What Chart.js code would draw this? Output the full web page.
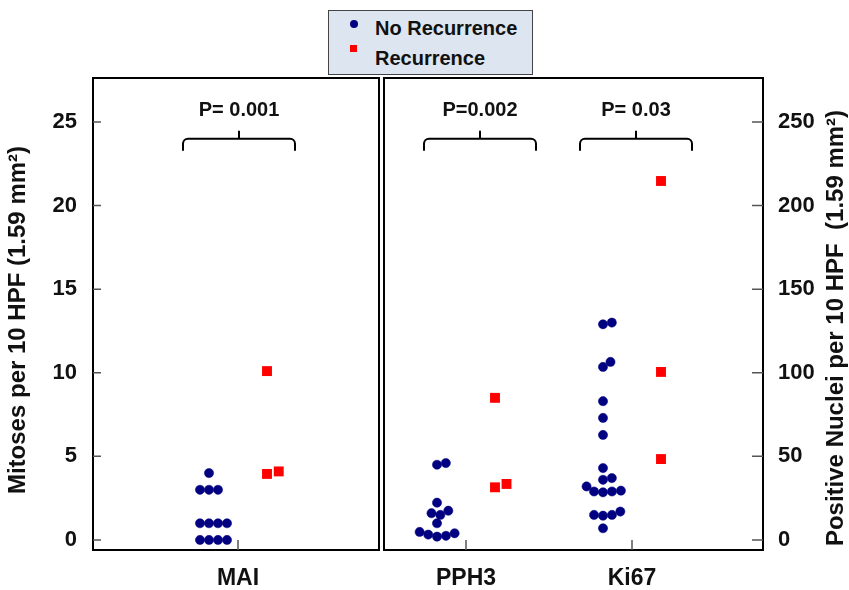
<!DOCTYPE html>
<html>
<head>
<meta charset="utf-8">
<script src="https://cdn.jsdelivr.net/npm/chart.js@4.4.1/dist/chart.umd.min.js"></script>
<style>
  html, body { margin: 0; padding: 0; background: #fff; }
  #wrap { position: relative; width: 849px; height: 590px; }
  #legend {
    position: absolute; left: 328px; top: 10px; width: 205px; height: 65px;
    background: #dde5f0; border: 1.5px solid #444; box-sizing: border-box;
    font: bold 20px "Liberation Sans", Arial, sans-serif; color: #111;
  }
  #legend .txt { position: absolute; left: 46px; line-height: 22px; white-space: nowrap; }
  #legend .dot { position: absolute; left: 21px; top: 9px; width: 8px; height: 8px; border-radius: 50%; background: #000080; }
  #legend .sq { position: absolute; left: 21px; top: 34px; width: 7px; height: 7px; background: #ff0000; }
</style>
</head>
<body>
<div id="wrap">
  <canvas id="myChart" width="849" height="590"></canvas>
  <div id="legend">
    <span class="dot"></span><div class="txt" style="top:6px">No Recurrence</div>
    <span class="sq"></span><div class="txt" style="top:36px">Recurrence</div>
  </div>
</div>
<script>
// values
const categories = ['MAI', 'PPH3', 'Ki67'];
const pLabels = ['P= 0.001', 'P=0.002', 'P= 0.03'];
const yTicks = [0, 5, 10, 15, 20, 25];
const y2Ticks = [0, 50, 100, 150, 200, 250];

const maiNoRec = [0, 0, 0, 0, 1, 1, 1, 1, 3, 3, 3, 4];
const maiRec = [10.1, 4.1, 3.95];
const pph3NoRec = [46, 45, 22.3, 17.5, 16, 15, 10, 4.8, 4, 3.2, 2.5, 2];
const pph3Rec = [85, 33.5, 31.5];
const ki67NoRec = [130, 129, 106.5, 103.5, 83, 73, 62.8, 43, 37, 36, 32, 29.5, 29, 29, 28.5, 17, 15, 15, 14.5, 7];
const ki67Rec = [214.7, 100.5, 48.4];

// layout
const catPos = [1.45, 3.73, 5.39];
const bracketX = [1.46, 3.87, 5.43];
const X_MAX = 6.7, Y_MIN = -0.6, Y_MAX = 27.63;
const PX_PER_X = 670 / X_MAX;
const PX_PER_Y = 472 / (Y_MAX - Y_MIN);
const FONT = '"Liberation Sans", Arial, sans-serif';
const navy = '#000080';

// simple beeswarm so that dots with close values sit side by side
function swarm(values, center, pxY, diam) {
  const order = values.map((v, i) => i).sort((a, b) => values[a] - values[b]);
  const placed = [];
  const out = new Array(values.length);
  order.forEach(i => {
    const y = values[i] * pxY;
    const near = placed.filter(p => Math.abs(p.y - y) < diam);
    let cands = [0];
    near.forEach(p => {
      const dx = Math.sqrt(diam * diam - (p.y - y) ** 2);
      cands.push(p.x - dx, p.x + dx);
    });
    cands = cands.filter(c => near.every(p => (c - p.x) ** 2 + (p.y - y) ** 2 >= diam * diam - 0.01));
    cands.sort((a, b) => Math.abs(a) - Math.abs(b) || b - a);
    placed.push({x: cands[0], y: y});
    out[i] = {x: center + cands[0] / PX_PER_X, y: values[i]};
  });
  return out;
}

function dots(vals, c, axis) {
  return {
    label: 'No Recurrence', yAxisID: axis,
    data: swarm(vals, catPos[c] - 0.29, axis === 'y' ? PX_PER_Y : PX_PER_Y / 10, 9),
    pointStyle: 'circle', pointRadius: 4.6, borderWidth: 0.5,
    backgroundColor: navy, borderColor: navy
  };
}
function squares(vals, c, axis) {
  return {
    label: 'Recurrence', yAxisID: axis,
    data: swarm(vals, catPos[c] + 0.29, axis === 'y' ? PX_PER_Y : PX_PER_Y / 10, 12),
    pointStyle: 'rect', pointRadius: 7, borderWidth: 0,
    backgroundColor: '#ff0000', borderColor: '#ff0000'
  };
}

function vText(ctx, txt, x, y) {
  ctx.save();
  ctx.translate(x, y);
  ctx.rotate(-Math.PI / 2);
  ctx.font = 'bold 24px ' + FONT;
  ctx.fillStyle = '#111';
  ctx.textAlign = 'center';
  ctx.textBaseline = 'middle';
  ctx.fillText(txt, 0, 0);
  ctx.restore();
}

const framePlugin = {
  id: 'frame',
  afterDraw(chart) {
    const ctx = chart.ctx;
    const x = chart.scales.x, y = chart.scales.y;
    const top = chart.chartArea.top, bottom = chart.chartArea.bottom;
    ctx.save();
    ctx.strokeStyle = '#000';
    ctx.lineWidth = 2;
    // two panels
    ctx.strokeRect(x.getPixelForValue(0), top, x.getPixelForValue(2.86) - x.getPixelForValue(0), bottom - top);
    ctx.strokeRect(x.getPixelForValue(2.91), top, x.getPixelForValue(X_MAX) - x.getPixelForValue(2.91), bottom - top);
    // inside ticks
    ctx.lineWidth = 1.5;
    ctx.strokeStyle = '#555';
    ctx.beginPath();
    catPos.forEach(v => {
      const px = x.getPixelForValue(v);
      ctx.moveTo(px, bottom); ctx.lineTo(px, bottom - 10);
    });
    yTicks.forEach(v => {
      const py = y.getPixelForValue(v);
      ctx.moveTo(chart.chartArea.left, py); ctx.lineTo(chart.chartArea.left + 8, py);
    });
    y2Ticks.forEach(v => {
      const py = chart.scales.y2.getPixelForValue(v);
      ctx.moveTo(chart.chartArea.right, py); ctx.lineTo(chart.chartArea.right - 11, py);
    });
    ctx.stroke();

    // brackets with p values
    ctx.strokeStyle = '#000';
    ctx.lineWidth = 2;
    const yb = y.getPixelForValue(24);
    bracketX.forEach((c, i) => {
      const x1 = x.getPixelForValue(c - 0.56), x2 = x.getPixelForValue(c + 0.56), xm = x.getPixelForValue(c);
      ctx.beginPath();
      ctx.moveTo(x1, yb + 12);
      ctx.arcTo(x1, yb, x1 + 5, yb, 5);
      ctx.arcTo(x2, yb, x2, yb + 12, 5);
      ctx.lineTo(x2, yb + 12);
      ctx.moveTo(xm, yb);
      ctx.lineTo(xm, yb - 8);
      ctx.stroke();
      ctx.fillStyle = '#111';
      ctx.font = 'bold 20px ' + FONT;
      ctx.textAlign = 'center';
      ctx.textBaseline = 'middle';
      ctx.fillText(pLabels[i], xm, yb - 28);
    });
    ctx.restore();

    // axis titles, both reading bottom to top
    vText(ctx, 'Mitoses per 10 HPF (1.59 mm\u00B2)', 18, 320);
    vText(ctx, 'Positive Nuclei per 10 HPF  (1.59 mm\u00B2)', 836, 328);
  }
};

const tickFont = {family: FONT, size: 22, weight: 'bold'};

new Chart(document.getElementById('myChart'), {
  type: 'scatter',
  data: {
    datasets: [
      dots(maiNoRec, 0, 'y'), squares(maiRec, 0, 'y'),
      dots(pph3NoRec, 1, 'y2'), squares(pph3Rec, 1, 'y2'),
      dots(ki67NoRec, 2, 'y2'), squares(ki67Rec, 2, 'y2')
    ]
  },
  options: {
    responsive: false,
    animation: false,
    layout: {padding: {top: 78, left: 0, right: 0, bottom: 0}},
    plugins: {legend: {display: false}, tooltip: {enabled: false}},
    scales: {
      x: {
        type: 'linear', min: 0, max: X_MAX,
        grid: {display: false, drawTicks: false}, border: {display: false},
        afterBuildTicks: s => { s.ticks = catPos.map(v => ({value: v})); },
        afterFit: s => { s.height = 40; },
        ticks: {
          callback: (v, i) => categories[i],
          font: {family: FONT, size: 23, weight: 'bold'}, color: '#111',
          padding: 15, autoSkip: false, maxRotation: 0
        }
      },
      y: {
        position: 'left', min: Y_MIN, max: Y_MAX,
        grid: {display: false, drawTicks: false}, border: {display: false},
        afterBuildTicks: s => { s.ticks = yTicks.map(v => ({value: v})); },
        afterFit: s => { s.width = 93; },
        ticks: {font: tickFont, color: '#111', padding: 16}
      },
      y2: {
        position: 'right', min: Y_MIN * 10, max: Y_MAX * 10,
        grid: {display: false, drawTicks: false}, border: {display: false},
        afterBuildTicks: s => { s.ticks = y2Ticks.map(v => ({value: v})); },
        afterFit: s => { s.width = 86; },
        ticks: {font: tickFont, color: '#111', padding: 15}
      }
    }
  },
  plugins: [framePlugin]
});
</script>
</body>
</html>
